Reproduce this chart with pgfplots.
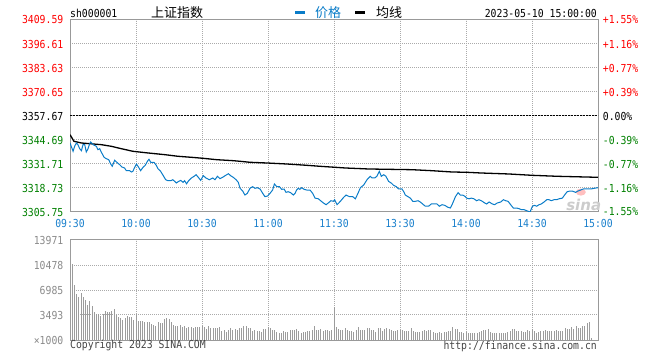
\documentclass[border=0pt]{standalone}
\usepackage{pgfplots}
\pgfplotsset{compat=1.18}
\usepackage{fontspec}
\setmainfont{DejaVu Sans Mono}[FakeStretch=0.89]
\newfontfamily\cjk{Noto Sans CJK SC}
\newfontfamily\sinafont{DejaVu Sans}
\newcommand\px{\fontsize{11bp}{12bp}\selectfont}
\definecolor{bordergray}{HTML}{999999}
\definecolor{gridgray}{HTML}{AAAAAA}
\definecolor{barcol}{HTML}{9C9C9C}
\definecolor{priceblue}{HTML}{0A7CC8}
\definecolor{timeblue}{HTML}{1A80CC}
\definecolor{upred}{HTML}{FF0000}
\definecolor{dngreen}{HTML}{008000}
\definecolor{labgray}{HTML}{8A8A8A}
\definecolor{txtgray}{HTML}{444444}
\begin{document}
\begin{tikzpicture}
\useasboundingbox (0,0) rectangle (660bp,360bp);
\pgfplotsset{
  common/.style={
    scale only axis, width=528bp, anchor=south west,
    xmin=0, xmax=240, xtick={0,30,...,240},
    grid=major,
    major grid style={gridgray, line width=1bp, dash pattern=on 1bp off 1bp},
    axis line style={draw=bordergray, line width=1bp},
    major tick length=0pt,
    scaled ticks=false,
    tick label style={font=\px},
    yticklabel style={inner sep=0pt, xshift=-6.5bp, anchor=east},
    clip mode=individual,
  }
}
% ---------------- price panel ----------------
\begin{axis}[common, at={(70bp,148bp)}, height=192bp,
  ymin=3305.75, ymax=3409.59,
  ytick={3305.75,3318.73,3331.71,3344.69,3357.67,3370.65,3383.63,3396.61,3409.59},
  yticklabels={\textcolor{dngreen}{3305.75},\textcolor{dngreen}{3318.73},\textcolor{dngreen}{3331.71},\textcolor{dngreen}{3344.69},\textcolor{black}{3357.67},\textcolor{upred}{3370.65},\textcolor{upred}{3383.63},\textcolor{upred}{3396.61},\textcolor{upred}{3409.59}},
  xticklabels={09:30,10:00,10:30,11:00,11:30,13:30,14:00,14:30,15:00},
  xticklabel style={text=timeblue, inner sep=0pt, yshift=-7.3bp, anchor=north},
]
\draw[black, line width=1bp, dash pattern=on 2bp off 1bp] (axis cs:0,3357.67) -- (axis cs:240,3357.67);
% sina watermark
\node[text=black!20, inner sep=0pt, anchor=south west] at (axis cs:225.5,3306.4) {\sinafont\bfseries\itshape\fontsize{15bp}{15bp}\selectfont sina};
\fill[red!25] (axis cs:232.2,3316.5) ellipse [x radius=5bp, y radius=3.5bp];
\addplot[black, line width=1.3bp] coordinates {
(0,3347.58) (1.8,3343.99) (5.2,3343.07) (14.2,3342.17) (18.8,3341.28) (23.3,3339.99)
(28.6,3338.58) (35.5,3337.67) (43,3336.77) (49.1,3335.88) (55.2,3335.33) (60.5,3334.79)
(66.7,3334.04) (74.2,3333.50) (77.3,3333.17) (81.8,3332.63) (89.4,3332.26) (98.5,3331.71)
(107.6,3331.01) (113.6,3330.47) (120.5,3329.93) (125.2,3329.55) (135.8,3329.01)
(155.5,3328.63) (164.5,3328.09) (173.6,3327.39) (180.5,3327.22) (186.7,3326.85)
(199.5,3326.31) (210.1,3325.59) (221.5,3325.06) (240,3324.51)
};
\addplot[priceblue, line width=1bp] coordinates {
(0,3343.07) (1.4,3338.58) (2.1,3341.28) (2.9,3343.07) (3.6,3342.17) (4.4,3339.99)
(5.2,3338.90) (5.9,3342.17) (6.7,3342.17) (7.4,3338.20) (8.2,3339.99) (8.9,3342.53)
(9.4,3343.61) (10.5,3342.17) (12.0,3341.28) (12.7,3339.45) (13.5,3339.99) (14.2,3338.20)
(15.5,3335.33) (16.5,3334.58) (17.6,3334.04) (18.5,3331.71) (19.2,3330.47) (20.3,3333.71)
(21.5,3332.41) (22.6,3331.33) (23.6,3330.09) (24.8,3329.55) (25.6,3328.09) (27.1,3328.09)
(27.9,3327.39) (28.6,3327.75) (29.1,3329.15) (30.2,3331.71) (31.2,3329.93) (32.1,3328.09)
(33.2,3329.93) (34.2,3331.01) (35.2,3333.17) (35.9,3334.25) (36.7,3332.63) (38.2,3332.63)
(39.2,3331.01) (40.0,3329.15) (41.2,3327.75) (42.3,3325.59) (43.5,3323.21) (44.5,3322.67)
(45.8,3322.67) (46.7,3323.21) (47.6,3322.32) (48.3,3321.43) (49.4,3322.32) (50.3,3322.86)
(51.4,3321.78) (52.1,3322.67) (53.0,3320.99) (53.9,3322.67) (55.2,3324.14) (56.4,3325.06)
(57.3,3325.92) (58.2,3324.68) (59.4,3322.86) (60.6,3325.39) (61.8,3324.14) (63.3,3323.21)
(64.9,3324.14) (65.9,3323.21) (67.0,3325.06) (68.2,3323.78) (69.4,3324.51) (70.5,3325.39)
(72.0,3326.46) (73.0,3325.39) (74.2,3324.51) (75.5,3323.21) (76.5,3321.78) (77.3,3318.55)
(78.5,3317.10) (79.5,3314.93) (80.6,3315.83) (81.8,3318.55) (83.0,3319.46) (84.1,3318.55)
(85.2,3318.91) (86.4,3318.19) (87.6,3315.83) (88.6,3314.06) (89.8,3314.39) (90.9,3315.83)
(92.1,3317.64) (92.9,3320.88) (94.0,3319.46) (95.2,3319.46) (96.2,3318.01) (97.3,3318.19)
(98.2,3316.37) (99.2,3316.73) (100.3,3316.19) (101.5,3314.93) (102.3,3315.83) (103.0,3317.64)
(103.8,3318.55) (104.5,3318.01) (105.3,3318.91) (106.4,3318.01) (107.6,3317.64) (109.1,3317.64)
(110.3,3315.83) (111.4,3313.25) (112.9,3312.89) (113.9,3311.86) (115.2,3310.62) (116.4,3309.70)
(117.4,3310.62) (118.6,3311.86) (119.7,3311.54) (120.3,3312.40) (121.4,3309.70) (122.9,3311.54)
(124.4,3313.70) (125.5,3314.93) (127.0,3314.06) (128.5,3314.06) (129.7,3312.89) (130.9,3315.83)
(132.0,3318.91) (133.5,3320.34) (135.0,3323.21) (136.5,3325.06) (137.3,3324.14) (138.5,3324.14)
(139.5,3325.06) (140.6,3327.75) (141.5,3325.06) (142.6,3325.92) (143.6,3325.06) (144.8,3322.32)
(146.0,3321.43) (147.1,3320.16) (148.3,3319.46) (149.4,3318.19) (150.9,3318.19) (151.7,3316.73)
(152.4,3314.93) (153.6,3314.06) (154.7,3313.25) (155.8,3311.54) (157.0,3311.54) (158.2,3311.86)
(159.2,3311.17) (160.3,3310.08) (161.5,3308.87) (163.0,3308.87) (164.2,3310.08) (165.3,3310.08)
(166.8,3310.08) (167.9,3308.87) (169.1,3309.70) (170.3,3309.37) (171.8,3308.29) (172.9,3307.91)
(174.0,3310.62) (175.2,3314.06) (176.4,3316.19) (177.4,3314.93) (178.5,3314.93) (179.7,3314.06)
(180.3,3313.25) (181.4,3312.89) (182.4,3313.25) (183.6,3312.89) (184.8,3311.86) (185.9,3312.40)
(187.4,3311.54) (188.5,3310.62) (189.4,3310.08) (190.5,3311.17) (192.0,3310.08) (193.0,3309.70)
(194.2,3310.62) (195.8,3311.17) (197.0,3312.40) (198.0,3311.86) (199.1,3311.54) (200.3,3309.70)
(201.5,3307.91) (203.0,3307.91) (204.1,3307.55) (205.2,3307.00) (206.4,3307.00) (207.6,3306.46)
(209.1,3305.75) (210.2,3308.87) (211.2,3309.37) (212.1,3308.87) (213.2,3309.70) (214.2,3310.08)
(215.5,3311.17) (216.7,3312.40) (217.7,3312.40) (218.8,3311.86) (220.0,3312.40) (221.2,3312.40)
(222.3,3312.89) (223.8,3313.25) (224.8,3314.93) (226.0,3316.73) (227.3,3317.10) (228.3,3317.10)
(229.8,3316.37) (230.9,3317.10) (232.1,3317.64) (233.3,3318.19) (235.1,3318.19) (236.7,3318.19)
(238.2,3318.55) (240.0,3318.91)
};
% right-hand percentage labels
\tikzset{pl/.style={anchor=west, inner sep=0pt, xshift=4.7bp, font=\px}}
\node[pl, text=upred] at (axis cs:240,3409.59) {+1.55\%};
\node[pl, text=upred] at (axis cs:240,3396.61) {+1.16\%};
\node[pl, text=upred] at (axis cs:240,3383.63) {+0.77\%};
\node[pl, text=upred] at (axis cs:240,3370.65) {+0.39\%};
\node[pl, text=black] at (axis cs:240,3357.67) {0.00\%};
\node[pl, text=dngreen] at (axis cs:240,3344.69) {-0.39\%};
\node[pl, text=dngreen] at (axis cs:240,3331.71) {-0.77\%};
\node[pl, text=dngreen] at (axis cs:240,3318.73) {-1.16\%};
\node[pl, text=dngreen] at (axis cs:240,3305.75) {-1.55\%};
\end{axis}
% ---------------- volume panel ----------------
\begin{axis}[common, at={(70bp,20bp)}, height=100bp,
  ymin=0, ymax=13971,
  ytick={0,3493,6985,10478,13971},
  yticklabels={×1000,3493,6985,10478,13971},
  yticklabel style={text=labgray},
  xticklabels={},
]
\addplot[ycomb, barcol, line width=1bp, mark=none] coordinates {
(0,13971) (1,10571) (2,7684) (3,6380) (4,6054) (5,6613) (6,6054) (7,5588) (8,4890) (9,5449)
(10,4797) (11,3865) (12,3586) (13,3586) (14,3400) (15,3586) (16,4052) (17,3865) (18,3958) (19,4052)
(20,4331) (21,3493) (22,3167) (23,3027) (24,2794) (25,3120) (26,3400) (27,3213) (28,3213) (29,2794)
(30,3586) (31,2654) (32,2654) (33,2654) (34,2468) (35,2468) (36,2468) (37,2189) (38,2096) (39,1956)
(40,2468) (41,2329) (42,2329) (43,2934) (44,3027) (45,2887) (46,2468) (47,2096) (48,2003) (49,2003)
(50,2096) (51,1863) (52,2003) (53,1723) (54,1863) (55,1863) (56,1630) (57,1863) (58,1863) (59,1863)
(60,2003) (61,1863) (62,1537) (63,2003) (64,1723) (65,1723) (66,1723) (67,1723) (68,1863) (69,1257)
(70,1397) (71,1164) (72,1397) (73,1723) (74,1397) (75,1537) (76,1397) (77,1630) (78,1723) (79,2003)
(80,2003) (81,1723) (82,1723) (83,1257) (84,1397) (85,1257) (86,1257) (87,1071) (88,1537) (89,1537)
(90,1863) (91,1723) (92,1397) (93,1397) (94,1071) (95,931) (96,931) (97,1257) (98,1071) (99,1164)
(100,1397) (101,1397) (102,1397) (103,1537) (104,1257) (105,931) (106,1071) (107,1071) (108,1257) (109,1257)
(110,1397) (111,2003) (112,1397) (113,1397) (114,1537) (115,1257) (116,1397) (117,1397) (118,1257) (119,1397)
(120,4657) (121,1863) (122,1537) (123,1397) (124,1397) (125,1723) (126,1397) (127,1257) (128,1257) (129,1071)
(130,1397) (131,1863) (132,1397) (133,1397) (134,1397) (135,1723) (136,1723) (137,1397) (138,1397) (139,1164)
(140,1723) (141,1723) (142,1257) (143,1537) (144,1723) (145,1537) (146,1397) (147,1257) (148,1257) (149,1397)
(150,1397) (151,1397) (152,1257) (153,1257) (154,1257) (155,1723) (156,1257) (157,1071) (158,1071) (159,1071)
(160,1257) (161,1397) (162,1257) (163,1397) (164,1397) (165,1071) (166,931) (167,931) (168,1071) (169,931)
(170,1071) (171,1164) (172,1257) (173,1257) (174,1863) (175,1537) (176,1537) (177,1164) (178,1071) (179,931)
(180,1071) (181,931) (182,931) (183,931) (184,931) (185,931) (186,1164) (187,1257) (188,1397) (189,1397)
(190,1537) (191,1071) (192,931) (193,931) (194,931) (195,931) (196,931) (197,931) (198,931) (199,1071)
(200,1257) (201,1537) (202,1537) (203,1257) (204,1257) (205,1257) (206,1164) (207,1071) (208,1397) (209,1257)
(210,1537) (211,1257) (212,931) (213,1164) (214,1257) (215,1257) (216,1397) (217,1257) (218,1257) (219,1257)
(220,1257) (221,1397) (222,1257) (223,1257) (224,1257) (225,1723) (226,1537) (227,1537) (228,1863) (229,1537)
(230,2003) (231,1723) (232,1723) (233,2003) (234,2003) (235,2329) (236,2561) (237,233)
};
\end{axis}
% ---------------- header / footer texts ----------------
\node[anchor=west, inner sep=0pt, font=\px] at (70bp,347bp) {sh000001};
\node[inner sep=0pt] at (177bp,347bp) {\cjk\fontsize{13bp}{14bp}\selectfont 上证指数};
\fill[priceblue] (295bp,345.8bp) rectangle (305bp,348.8bp);
\node[anchor=west, inner sep=0pt, text=priceblue] at (315bp,347bp) {\cjk\fontsize{13bp}{14bp}\selectfont 价格};
\fill[black] (355bp,345.8bp) rectangle (365bp,348.8bp);
\node[anchor=west, inner sep=0pt] at (376bp,347bp) {\cjk\fontsize{13bp}{14bp}\selectfont 均线};
\node[anchor=east, inner sep=0pt, font=\px] at (597bp,347bp) {2023-05-10 15:00:00};
\node[anchor=west, inner sep=0pt, font=\px, text=txtgray] at (70bp,14bp) {Copyright 2023 SINA.COM};
\node[anchor=east, inner sep=0pt, font=\px, text=txtgray] at (597bp,14bp) {http://finance.sina.com.cn};
\end{tikzpicture}
\end{document}
